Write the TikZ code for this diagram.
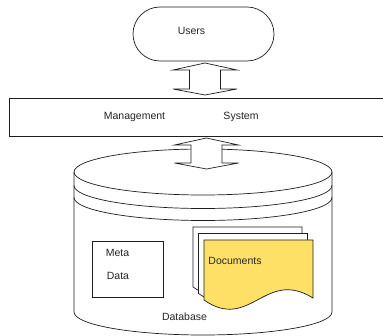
\documentclass[tikz,border=0pt]{standalone}
\usepackage{fontspec}
\setmainfont{Liberation Sans}
\definecolor{docyellow}{RGB}{255,224,102}
\definecolor{linegray}{RGB}{30,30,30}
\newcommand{\dblarrowshape}[3]{% center x, top tip y, bottom tip y
  \filldraw[shapeline,fill=white] (#1,#2) -- (#1+32,#2+7) -- (#1+15.5,#2+7) -- (#1+15.5,#3-6) -- (#1+32,#3-6)
    -- (#1,#3) -- (#1-32,#3-6) -- (#1-15.5,#3-6) -- (#1-15.5,#2+7) -- (#1-32,#2+7) -- cycle;}
\begin{document}
\begin{tikzpicture}[x=1pt,y=-1pt,
  shapeline/.style={draw=linegray,line width=0.7pt,line join=miter},
  lbl/.style={font=\fontsize{10.5}{12}\selectfont,text=black!85,inner sep=0pt,anchor=base}]
\useasboundingbox (0,0) rectangle (383,336);
\clip (0,0) rectangle (383,336);
\fill[white] (0,0) rectangle (383,336);
% management system bar
\draw[shapeline] (9,98) rectangle (395,136);
% users
\draw[shapeline,rounded corners=27pt] (133,7) rectangle (274,61);
% arrow users <-> management
\dblarrowshape{205}{63}{95}
% cylinder body
\filldraw[shapeline,fill=white] (74,172) -- (74,312) arc[start angle=180,end angle=0,x radius=129,y radius=23]
  -- (332,172) arc[start angle=0,end angle=-180,x radius=129,y radius=23] -- cycle;
\draw[shapeline] (74,172) arc[start angle=180,end angle=0,x radius=129,y radius=23];
\draw[shapeline] (74,185.5) arc[start angle=180,end angle=0,x radius=129,y radius=23];
\draw[shapeline] (74,197.5) arc[start angle=180,end angle=0,x radius=129,y radius=23];
% arrow management <-> database
\dblarrowshape{206.5}{138}{169}
% meta data box
\draw[shapeline] (92,241) rectangle (163,297);
% documents
\foreach \dx/\dy/\col in {-11/-13/white,-5.5/-6.5/white,0/0/docyellow}{
  \filldraw[shapeline,fill=\col,shift={(\dx,\dy)}] (204,300) -- (204,240) -- (313,240) -- (313,298)
    .. controls (265,268) and (250,332) .. cycle;
}
% labels
\node[lbl] (users) at (191.5,34.3) {Users};
\node[lbl] (mgmt) at (134.5,120) {Management};
\node[lbl] (sys) at (241,120) {System};
\node[lbl] (meta) at (117.5,257) {Meta};
\node[lbl] (data) at (118,280) {Data};
\node[lbl] (docs) at (235,265) {Documents};
\node[lbl] (db) at (184.5,320.7) {Database};
\end{tikzpicture}
\end{document}
